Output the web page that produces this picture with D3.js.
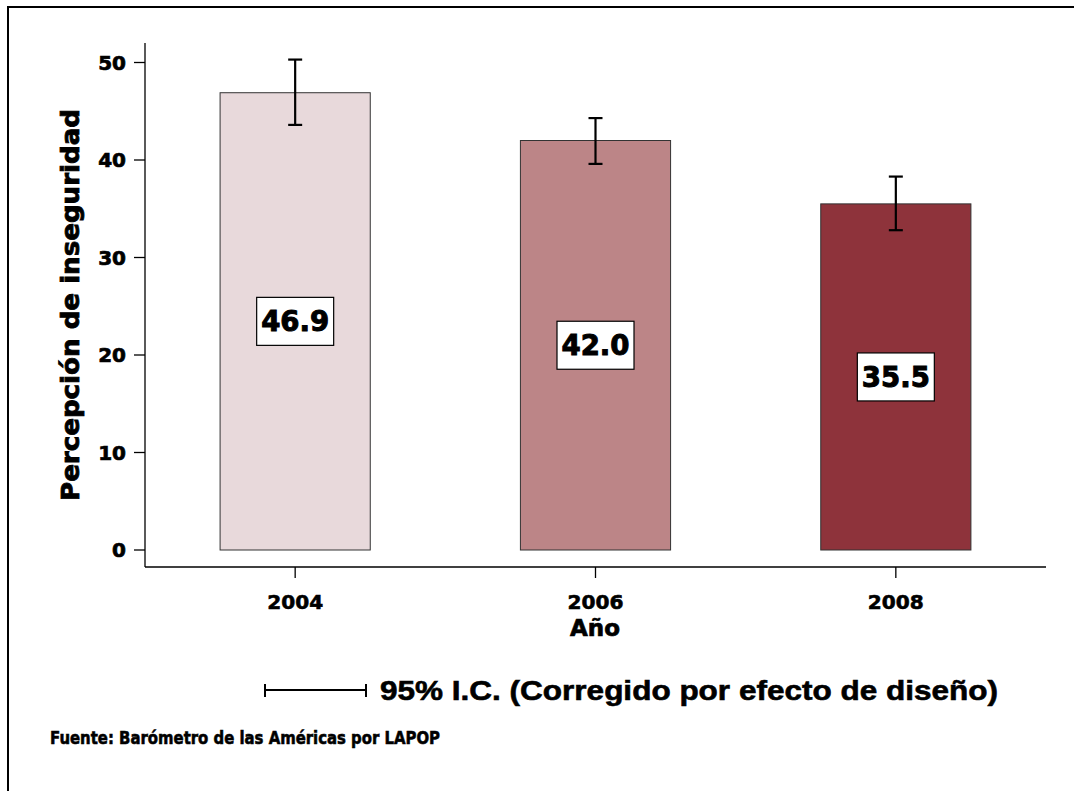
<!DOCTYPE html>
<html><head><meta charset="utf-8">
<script src="https://cdn.jsdelivr.net/npm/d3@7"></script>
<style>body{margin:0;background:#fff}svg{display:block}</style>
</head><body>
<script>
const years = ["2004","2006","2008"];
const values = [46.9, 42.0, 35.5];
const ciLow = [43.6, 39.6, 32.8];
const ciHigh = [50.3, 44.3, 38.3];
const colors = ["#e8d9db", "#bc8587", "#8e333b"];
const yTicks = [0,10,20,30,40,50];
const labels = ["46.9","42.0","35.5"];

const W=1074,H=791;
const svg=d3.select("body").append("svg").attr("width",W).attr("height",H);
// frame
svg.append("path").attr("d","M8,800 L8,7 L1080,7").attr("fill","none").attr("stroke","#000").attr("stroke-width",2);

const x=d3.scaleBand().domain(years).range([145,1046]).paddingInner(0.5).paddingOuter(0.25);
const y=d3.scaleLinear().domain([0,50]).range([550,62.5]);
const font="'DejaVu Sans', Arial, sans-serif";
function heavy(sel,w){return sel.attr("stroke","#000").attr("stroke-width",w).attr("paint-order","stroke");}

// y axis
const ya=svg.append("g").attr("transform","translate(145,0)");
ya.append("line").attr("x1",0).attr("x2",0).attr("y1",43).attr("y2",567).attr("stroke","#000").attr("stroke-width",1.3);
yTicks.forEach(t=>{
  ya.append("line").attr("x1",-11).attr("x2",0).attr("y1",y(t)).attr("y2",y(t)).attr("stroke","#000").attr("stroke-width",1.3);
  heavy(ya.append("text").attr("x",-19).attr("y",y(t)).attr("dy","0.36em").attr("text-anchor","end")
    .attr("font-family",font).attr("font-weight","bold").attr("font-size",20).text(t),0.7);
});
// x axis
const xa=svg.append("g");
xa.append("line").attr("x1",145).attr("x2",1046).attr("y1",567).attr("y2",567).attr("stroke","#000").attr("stroke-width",1.3);
years.forEach(yr=>{
  const cx=x(yr)+x.bandwidth()/2;
  xa.append("line").attr("x1",cx).attr("x2",cx).attr("y1",567).attr("y2",578).attr("stroke","#000").attr("stroke-width",1.3);
  heavy(xa.append("text").attr("x",cx).attr("y",609).attr("text-anchor","middle")
    .attr("font-family",font).attr("font-weight","bold").attr("font-size",20).attr("textLength",56).attr("lengthAdjust","spacingAndGlyphs").text(yr),0.6);
});
heavy(svg.append("text").attr("x",595).attr("y",636).attr("text-anchor","middle")
  .attr("font-family",font).attr("font-weight","bold").attr("font-size",23).text("Año"),0.7);
heavy(svg.append("text").attr("transform","translate(79,305) rotate(-90)").attr("text-anchor","middle")
  .attr("font-family",font).attr("font-weight","bold").attr("font-size",24).attr("textLength",392).attr("lengthAdjust","spacingAndGlyphs")
  .text("Percepción de inseguridad"),0.8);

// bars
years.forEach((yr,i)=>{
  const bx=x(yr), bw=x.bandwidth(), cx=bx+bw/2;
  svg.append("rect").attr("x",bx).attr("y",y(values[i])).attr("width",bw).attr("height",y(0)-y(values[i]))
    .attr("fill",colors[i]).attr("stroke","#333").attr("stroke-width",1);
  // error bar
  const g=svg.append("g").attr("stroke","#000").attr("stroke-width",2.2);
  g.append("line").attr("x1",cx).attr("x2",cx).attr("y1",y(ciHigh[i])).attr("y2",y(ciLow[i]));
  g.append("line").attr("x1",cx-7).attr("x2",cx+7).attr("y1",y(ciHigh[i])).attr("y2",y(ciHigh[i]));
  g.append("line").attr("x1",cx-7).attr("x2",cx+7).attr("y1",y(ciLow[i])).attr("y2",y(ciLow[i]));
  // label box
  const my=(y(values[i])+y(0))/2;
  svg.append("rect").attr("x",cx-38.5).attr("y",my-24).attr("width",77).attr("height",48)
    .attr("fill","#fff").attr("stroke","#000").attr("stroke-width",1.2);
  heavy(svg.append("text").attr("x",cx).attr("y",my).attr("dy","0.36em").attr("text-anchor","middle")
    .attr("font-family",font).attr("font-weight","bold").attr("font-size",28).attr("textLength",68).attr("lengthAdjust","spacingAndGlyphs").text(labels[i]),1);
});

// legend
const lg=svg.append("g").attr("stroke","#000").attr("stroke-width",2);
lg.append("line").attr("x1",265).attr("x2",366).attr("y1",690).attr("y2",690);
lg.append("line").attr("x1",265).attr("x2",265).attr("y1",684).attr("y2",697);
lg.append("line").attr("x1",366).attr("x2",366).attr("y1",684).attr("y2",697);
heavy(svg.append("text").attr("x",380).attr("y",700).attr("font-family","'Liberation Sans Narrow', 'Liberation Sans', Arial, sans-serif")
  .attr("font-weight","bold").attr("font-size",28).attr("textLength",618).attr("lengthAdjust","spacingAndGlyphs")
  .text("95% I.C. (Corregido por efecto de diseño)"),0.6);
heavy(svg.append("text").attr("x",50).attr("y",744).attr("font-family",font)
  .attr("font-weight","bold").attr("font-size",18).attr("textLength",390).attr("lengthAdjust","spacingAndGlyphs")
  .text("Fuente: Barómetro de las Américas por LAPOP"),0.6);
</script>
</body></html>
